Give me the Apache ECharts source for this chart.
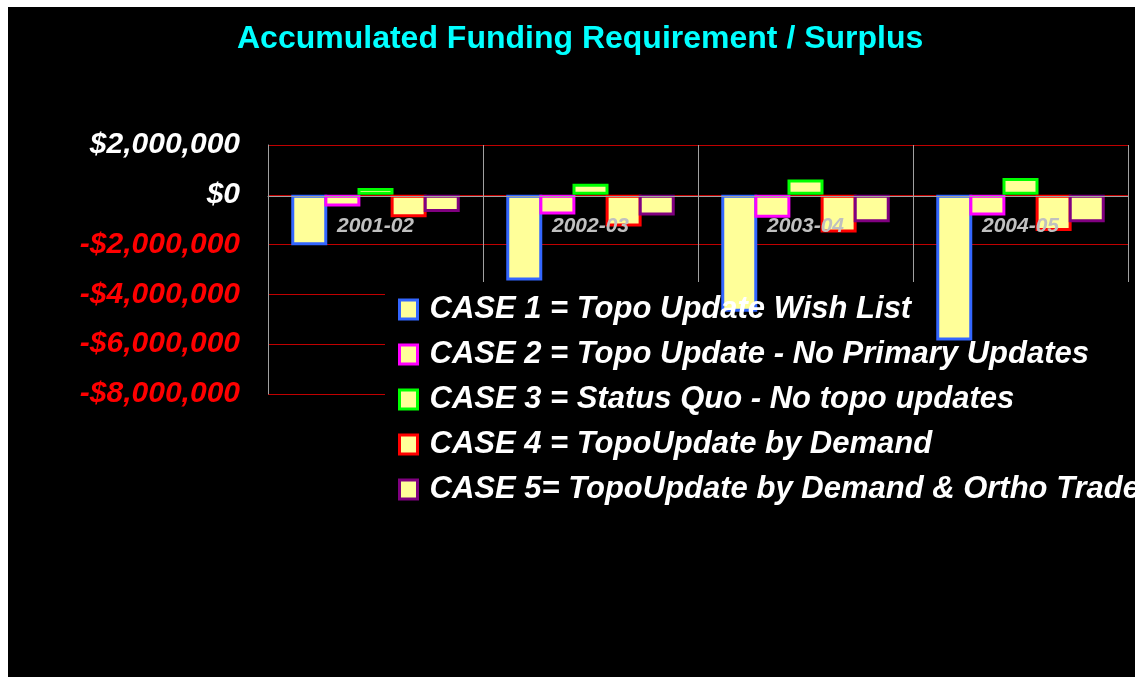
<!DOCTYPE html>
<html lang="en">
<head>
<meta charset="UTF-8">
<title>Accumulated Funding Requirement / Surplus</title>
<style>
    html, body { margin: 0; padding: 0; background: #fff; }
    #chart { position: absolute; left: 8px; top: 7px; width: 1127px; height: 670px; background: #000; }
</style>
</head>
<body>
<div id="chart"></div>
<script src="https://cdn.jsdelivr.net/npm/echarts/dist/echarts.min.js"></script>
<script>
// data
const years = ['2001-02', '2002-03', '2003-04', '2004-05'];
const caseNames = [
    'CASE 1 = Topo Update Wish List',
    'CASE 2 = Topo Update - No Primary Updates',
    'CASE 3 = Status Quo - No topo updates',
    'CASE 4 = TopoUpdate by Demand',
    'CASE 5= TopoUpdate by Demand & Ortho Trade'
];
const case1 = [-2030000, -3440000, -4700000, -5850000];
const case2 = [-470000, -790000, -920000, -830000];
const case3 = [270000, 440000, 610000, 670000];
const case4 = [-900000, -1270000, -1510000, -1450000];
const case5 = [-690000, -830000, -1100000, -1100000];
const yMin = -8000000;
const yMax = 2000000;
const yStep = 2000000;

const caseValues = [case1, case2, case3, case4, case5];
const borderColors = ['#3366ff', '#ff00ff', '#00ff00', '#ff0000', '#800080'];
const fill = '#ffff99';
const font = "'Liberation Sans', Arial, sans-serif";

function money(v) {
    return (v < 0 ? '-' : '') + '$' + Math.abs(v).toLocaleString('en-US');
}

const chart = echarts.init(document.getElementById('chart'));

const option = {
    backgroundColor: '#000',
    animation: false,
    title: {
        text: 'Accumulated Funding Requirement / Surplus',
        left: 229,
        top: 16,
        padding: 0,
        textStyle: { color: '#00ffff', fontSize: 32, fontWeight: 'bold', fontFamily: font }
    },
    grid: { left: 260, right: 7, top: 138, bottom: 283 },
    legend: {
        orient: 'vertical',
        left: 390,
        top: 287,
        padding: 0,
        itemGap: 14,
        itemWidth: 18,
        itemHeight: 19,
        icon: 'rect',
        z: 4,
        textStyle: {
            color: '#fff', fontSize: 31, fontWeight: 'bold', fontStyle: 'italic', fontFamily: font,
            padding: [0, 0, 0, 7]
        },
        data: caseNames.map((n, i) => ({
            name: n,
            itemStyle: { color: fill, borderColor: borderColors[i], borderWidth: 3 }
        }))
    },
    // black box behind the legend hides the lower grid lines
    graphic: [{
        type: 'rect', left: 377, top: 275, z: 1,
        shape: { width: 760, height: 120 },
        style: { fill: '#000' }
    }],
    xAxis: [{
        type: 'category',
        data: years,
        z: 3,
        offset: -198,
        axisLine: { onZero: false, lineStyle: { color: '#a0a0a0', width: 1 } },
        axisTick: { show: false },
        splitLine: { show: false },
        axisLabel: { margin: 20, color: '#c0c0c0', fontSize: 21, fontWeight: 'bold', fontStyle: 'italic', fontFamily: font }
    }, {
        type: 'category',
        data: years,
        position: 'top',
        z: 0,
        axisLine: { show: false },
        axisTick: { show: false },
        axisLabel: { show: false },
        splitLine: { show: true, lineStyle: { color: '#a0a0a0', width: 1 } }
    }],
    yAxis: {
        type: 'value',
        min: yMin,
        max: yMax,
        interval: yStep,
        axisLine: { show: true, lineStyle: { color: '#a0a0a0' } },
        axisTick: { show: false },
        splitLine: { show: true, lineStyle: { color: '#c00000', width: 1 } },
        axisLabel: {
            margin: 28,
            formatter: money,
            color: v => (Number(v) < 0 ? '#ff0000' : '#ffffff'),
            fontSize: 30,
            fontWeight: 'bold',
            fontStyle: 'italic',
            fontFamily: font
        }
    },
    series: caseNames.map((n, i) => ({
        name: n,
        type: 'bar',
        xAxisIndex: 0,
        z: 2,
        barWidth: 36,
        barGap: '-8%',
        data: caseValues[i],
        itemStyle: { color: fill, borderColor: borderColors[i], borderWidth: 3 }
    }))
};

chart.setOption(option);
window.addEventListener('resize', function () { chart.resize(); });
</script>
</body>
</html>
